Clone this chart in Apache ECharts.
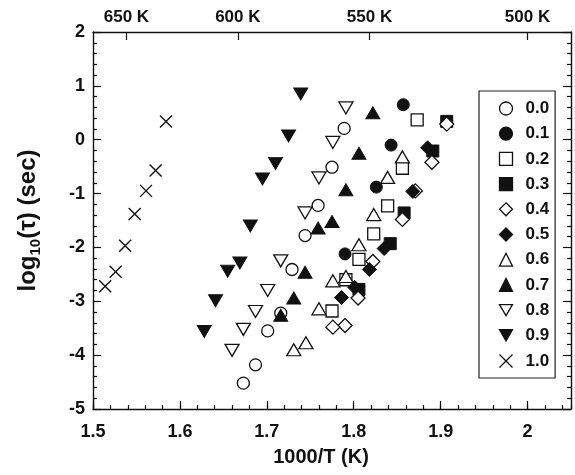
<!DOCTYPE html>
<html>
<head>
<meta charset="utf-8">
<script src="https://cdn.jsdelivr.net/npm/echarts@6/dist/echarts.min.js"></script>
<style>html,body{margin:0;padding:0;background:#fff;}#c{width:575px;height:475px;}</style>
</head>
<body>
<div id="c"></div>
<script>
// ---- data ----
const seriesNames = ['0.0','0.1','0.2','0.3','0.4','0.5','0.6','0.7','0.8','0.9','1.0'];
const x00 = [1.789,1.775,1.759,1.744,1.729,1.716,1.701,1.687,1.673];
const y00 = [0.21,-0.51,-1.22,-1.78,-2.41,-3.22,-3.55,-4.18,-4.52];
const x01 = [1.857,1.843,1.826,1.790];
const y01 = [0.65,-0.10,-0.88,-2.12];
const x02 = [1.873,1.856,1.839,1.823,1.806,1.791,1.775];
const y02 = [0.37,-0.53,-1.23,-1.75,-2.22,-2.60,-3.18];
const x03 = [1.907,1.891,1.858,1.842,1.806];
const y03 = [0.34,-0.21,-1.36,-1.93,-2.78];
const x04 = [1.907,1.890,1.871,1.856,1.822,1.805,1.790,1.776];
const y04 = [0.29,-0.42,-0.95,-1.48,-2.26,-2.94,-3.45,-3.48];
const x05 = [1.885,1.868,1.835,1.818,1.801,1.786];
const y05 = [-0.15,-0.96,-2.02,-2.41,-2.74,-2.93];
const x06 = [1.856,1.839,1.823,1.806,1.791,1.776,1.760,1.745,1.731];
const y06 = [-0.32,-0.70,-1.39,-1.95,-2.54,-2.62,-3.14,-3.77,-3.90];
const x07 = [1.822,1.806,1.791,1.775,1.759,1.744,1.731,1.716];
const y07 = [0.50,-0.25,-0.93,-1.52,-1.64,-2.46,-2.94,-3.26];
const x08 = [1.791,1.776,1.760,1.744,1.716,1.701,1.687,1.673,1.660];
const y08 = [0.59,-0.05,-0.71,-1.36,-2.25,-2.80,-3.19,-3.52,-3.91];
const x09 = [1.739,1.725,1.710,1.695,1.681,1.669,1.655,1.641,1.628];
const y09 = [0.85,0.07,-0.44,-0.73,-1.60,-2.29,-2.44,-2.99,-3.56];
const x10 = [1.584,1.572,1.561,1.548,1.537,1.526,1.514];
const y10 = [0.34,-0.57,-0.95,-1.38,-1.97,-2.45,-2.72];
const topTempsK = [650, 600, 550, 500];
const xTitle = '1000/T (K)';

const allX = [x00,x01,x02,x03,x04,x05,x06,x07,x08,x09,x10];
const allY = [y00,y01,y02,y03,y04,y05,y06,y07,y08,y09,y10];

// ---- styles ----
const FONT = 'Liberation Sans, Arial, sans-serif';
const INK = '#111111';
const OPEN = {color:'#ffffff', borderColor:INK, borderWidth:1.3, opacity:1};
const FILL = {color:INK, borderColor:INK, borderWidth:1, opacity:1};
const CROSS = 'path://M0,0L10,10M10,0L0,10';
const TRI_DOWN = 'path://M0,0L14,0L7,12Z';
const markerStyles = [
  {symbol:'circle', size:12, style:OPEN},
  {symbol:'circle', size:12, style:FILL},
  {symbol:'rect', size:12, style:OPEN},
  {symbol:'rect', size:12, style:FILL},
  {symbol:'diamond', size:14, style:OPEN},
  {symbol:'diamond', size:14, style:FILL},
  {symbol:'triangle', size:[14,12], style:OPEN},
  {symbol:'triangle', size:[14,12], style:FILL},
  {symbol:TRI_DOWN, size:[14,12], style:OPEN},
  {symbol:TRI_DOWN, size:[14,12], style:FILL},
  {symbol:CROSS, size:12, style:{color:'none', borderColor:INK, borderWidth:1.4, opacity:1}}
];

const series = seriesNames.map((name, i) => {
  const m = markerStyles[i];
  return {
    type:'scatter', name:name, xAxisIndex:0, yAxisIndex:0,
    data: allX[i].map((x, k) => [x, allY[i][k]]),
    symbol:m.symbol, symbolSize:m.size,
    itemStyle:m.style, emphasis:{disabled:true}, z: 2 + i
  };
});

const tickLine = {color:INK, width:1.2};
const axisLineStyle = {color:INK, width:1.4};

const chart = echarts.init(document.getElementById('c'), null, {renderer:'canvas'});
chart.setOption({
  animation:false,
  backgroundColor:'#ffffff',
  grid:{left:93, right:4, top:32, bottom:66, containLabel:false},
  legend:{
    orient:'vertical', left:479, top:91,
    itemWidth:13, itemHeight:13, itemGap:8.2,
    padding:[9,6,8,18],
    borderColor:'#222', borderWidth:1.2,
    data:seriesNames,
    itemStyle:{borderWidth:1.3, opacity:1},
    textStyle:{fontFamily:FONT, fontWeight:'bold', fontSize:17, color:INK, padding:[0,0,0,8]},
    selectedMode:false
  },
  xAxis:[
    {
      type:'value', position:'bottom', min:1.5, max:2.05, interval:0.1,
      axisLine:{show:true, onZero:false, lineStyle:axisLineStyle},
      axisTick:{show:true, inside:true, length:8, lineStyle:tickLine},
      axisLabel:{show:true, margin:14, showMaxLabel:false, fontFamily:FONT, fontWeight:'bold', fontSize:18, color:INK},
      splitLine:{show:false},
      name:xTitle, nameLocation:'middle', nameGap:38,
      nameTextStyle:{fontFamily:FONT, fontWeight:'bold', fontSize:20, color:INK, padding:[0,22,0,0]}
    },
    {
      type:'value', position:'bottom', min:1.5, max:2.05, interval:0.02,
      axisLine:{show:false, onZero:false},
      axisTick:{show:true, inside:true, length:4, lineStyle:tickLine},
      axisLabel:{show:false}, splitLine:{show:false}
    },
    {
      type:'value', position:'top', min:1.5, max:2.05,
      axisLine:{show:true, onZero:false, lineStyle:axisLineStyle},
      axisTick:{show:true, inside:true, length:8, lineStyle:tickLine,
        customValues: topTempsK.map(t => 1000 / t)},
      axisLabel:{show:true, margin:6, fontFamily:FONT, fontWeight:'bold', fontSize:17, color:INK,
        customValues: topTempsK.map(t => 1000 / t),
        formatter: v => Math.round(1000 / v) + ' K'},
      splitLine:{show:false}
    }
  ],
  yAxis:[
    {
      type:'value', position:'left', min:-5, max:2, interval:1,
      axisLine:{show:true, onZero:false, lineStyle:axisLineStyle},
      axisTick:{show:true, inside:true, length:8, lineStyle:tickLine},
      minorTick:{show:true, splitNumber:5, length:4, lineStyle:tickLine},
      axisLabel:{show:true, margin:8, fontFamily:FONT, fontWeight:'bold', fontSize:18, color:INK},
      splitLine:{show:false},
      name:'{m|log}{s|10}{m|(τ) (sec)}', nameLocation:'middle', nameRotate:90, nameGap:50,
      nameTextStyle:{
        rich:{
          m:{fontFamily:FONT, fontWeight:'bold', fontSize:24, color:INK},
          s:{fontFamily:FONT, fontWeight:'bold', fontSize:15, color:INK, padding:[14,0,0,0]}
        }
      }
    },
    {
      type:'value', position:'right', min:-5, max:2, interval:1,
      axisLine:{show:true, onZero:false, lineStyle:axisLineStyle},
      axisTick:{show:true, inside:true, length:8, lineStyle:tickLine},
      minorTick:{show:true, splitNumber:5, length:4, lineStyle:tickLine},
      axisLabel:{show:false}, splitLine:{show:false}
    }
  ],
  series:series
});
</script>
</body>
</html>
